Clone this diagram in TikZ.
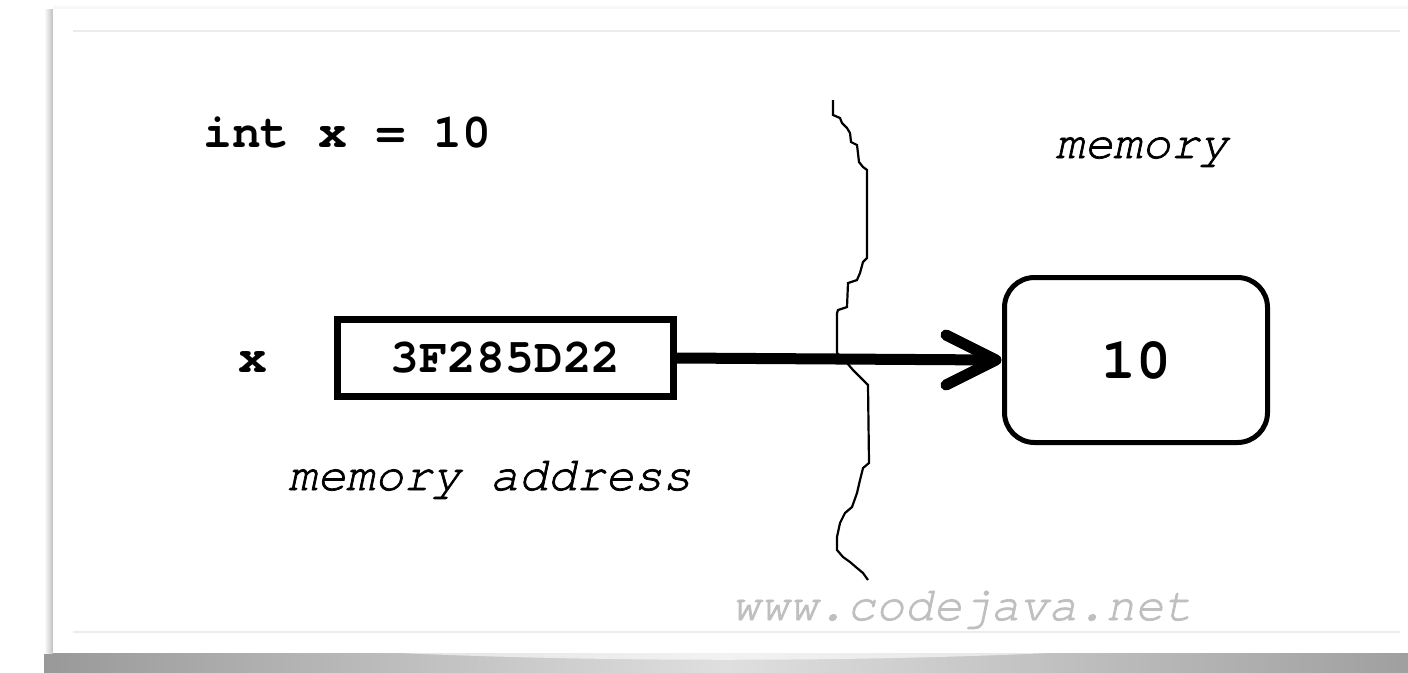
\documentclass[tikz,border=0pt]{standalone}
\usepackage{fontspec}
\newfontfamily\cour{TeX Gyre Cursor}
\newfontfamily\couri[FakeBold=1.5]{TeX Gyre Cursor Italic}
\begin{document}
\begin{tikzpicture}[x=1pt,y=-1pt,
  code/.style={font=\cour\bfseries\fontsize{48}{50}\selectfont, inner sep=0pt},
  itlabel/.style={font=\couri\fontsize{48}{50}\selectfont, inner sep=0pt},
  addrbox/.style={draw, line width=7pt, minimum width=336pt, minimum height=77pt, inner sep=0pt, font=\cour\bfseries\fontsize{48}{50}\selectfont},
  valbox/.style={draw, line width=5pt, rounded corners=30pt, minimum width=263pt, minimum height=165pt, inner sep=0pt, font=\cour\bfseries\fontsize{58}{60}\selectfont},
  wavy/.style={line width=2.2pt, line join=miter}
]
\useasboundingbox (0,0) rectangle (1408,672);
\fill[white] (0,0) rectangle (1408,672);
% card shadows
\shade[left color=gray!80, right color=gray!25] (44,653) rectangle (726,672);
\shade[left color=gray!25, right color=gray!75] (726,653) rectangle (1408,672);
\shade[top color=white, bottom color=white, opacity=0.6] (400,653) .. controls (600,662) and (850,662) .. (1050,653) -- cycle;
\shade[left color=white, right color=gray!50] (44,9) rectangle (53,653);
\fill[gray!6] (53,6) rectangle (1408,9);
\fill[white] (53,9) rectangle (1408,653);
\draw[gray!15, line width=1.5pt] (73,31) -- (1400,31);
\draw[gray!15, line width=1.5pt] (73,632) -- (1400,632);

% texts
\node[code, anchor=base west] (decl) at (203,147) {int x = 10};
\node[itlabel, anchor=base] (memlbl) at (1142,158) {memory};
\node[code, anchor=base] (xlbl) at (253,372) {x};
\node[itlabel, anchor=base] (addrlbl) at (490,490) {memory address};
\node[itlabel, anchor=base, text=gray!50] (web) at (962,620) {www.codejava.net};

% boxes
\node[addrbox] (addr) at (505.5,358) {3F285D22};
\node[valbox] (val) at (1136,360) {\raisebox{-5pt}{10}};

% wavy boundary
\draw[wavy] (833,100) -- (833,115) -- (840,118) -- (842,123) -- (847,128) -- (850,133) -- (851,142) -- (857,145) -- (859,162) -- (863,167) -- (867,170) -- (867,258) -- (863,262) -- (860,273) -- (857,280) -- (848,283) -- (847,307) -- (838,310) -- (837,313) -- (837,353) -- (847,363) -- (853,370) -- (860,377) -- (868,385) -- (869,463) -- (863,468) -- (860,480) -- (857,493) -- (852,507) -- (845,513) -- (840,523) -- (837,537) -- (837,550) -- (843,557) -- (850,562) -- (857,568) -- (863,573) -- (868,580);

% pointer arrow
\coordinate (tip) at ([xshift=-6pt]val.west);
\draw[line width=11pt] (addr.east) -- (tip);
\draw[line width=11pt, line cap=round, line join=round] ([shift={(-50pt,25pt)}]tip) -- (tip) -- ([shift={(-50pt,-25pt)}]tip);
\end{tikzpicture}
\end{document}
